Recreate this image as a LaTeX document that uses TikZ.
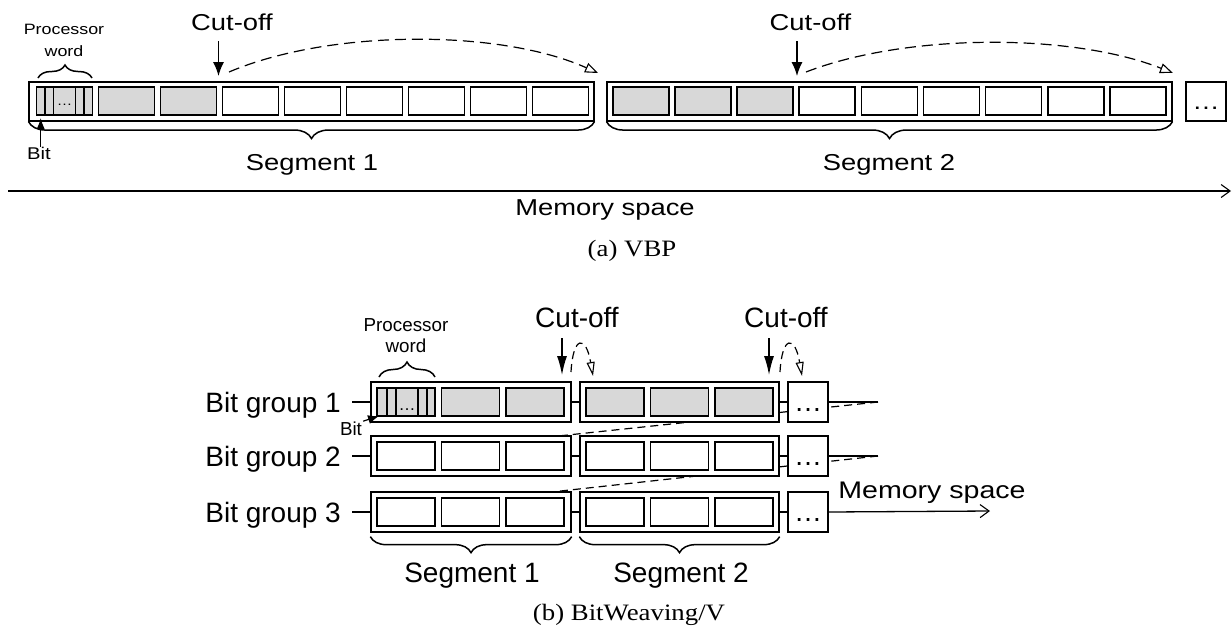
\documentclass[tikz,border=0pt]{standalone}
\usepackage{fontspec}
\setmainfont{Liberation Sans}
\newfontfamily\afont{Liberation Sans}[FakeStretch=1.19]
\newfontfamily\capfont{Liberation Serif}[FakeStretch=1.14]
\usetikzlibrary{arrows.meta,decorations.pathreplacing}
\definecolor{cellgray}{RGB}{216,216,216}
\pgfdeclarelayer{bg}
\pgfsetlayers{bg,main}
\tikzset{
  alab/.style={font=\afont\fontsize{23}{27}\selectfont, inner sep=0pt},
  asmall/.style={font=\afont\fontsize{15}{22}\selectfont, inner sep=0pt, align=center},
  blab/.style={font=\fontsize{28}{32}\selectfont, inner sep=0pt},
  bsmall/.style={font=\fontsize{18.8}{21}\selectfont, inner sep=0pt, align=center},
  captext/.style={font=\capfont\fontsize{23.5}{27}\selectfont, inner sep=0pt},
  outerbox/.style={draw, line width=1.1pt, fill=white, inner sep=0pt},
  cellbox/.style={draw, line width=1.7pt, inner sep=0pt},
  dotbox/.style={draw, line width=1.1pt, fill=white, inner sep=0pt, text depth=0pt},
  acut/.style={line width=1.3pt, -{Latex[length=14pt,width=11pt]}},
  bcut/.style={line width=1.3pt, -{Latex[length=19pt,width=10pt]}},
  ajump/.style={line width=1.2pt, dash pattern=on 11pt off 6pt, -{Triangle[open,length=13pt,width=10pt,line width=1.1pt]}},
  bjump/.style={line width=1.2pt, dash pattern=on 8pt off 5pt, -{Triangle[open,length=14pt,width=8pt,line width=1.1pt]}},
  abit/.style={line width=1.2pt, -{Latex[length=11pt,width=8pt]}},
  bbit/.style={line width=1.2pt, -{Latex[length=11pt,width=9pt]}},
  abrace/.style={decorate, decoration={brace, mirror, amplitude=17pt}, line width=1.5pt},
  bbrace/.style={decorate, decoration={brace, mirror, amplitude=16pt}, line width=1.5pt},
  pbrace/.style={decorate, decoration={brace, amplitude=#1}, line width=1.5pt},
  axisline/.style={line width=1.3pt, -{Straight Barb[length=9pt,width=13pt,line width=1.1pt]}},
  conn/.style={line width=1.2pt},
  weave/.style={line width=1.2pt, dash pattern=on 8pt off 5pt},
}
\begin{document}
\begin{tikzpicture}[x=1pt,y=-1pt]
\useasboundingbox (0,0) rectangle (1232,630);

% ---------------- (a) VBP ----------------
\node[outerbox, minimum width=565pt, minimum height=39pt] (sa1) at (311.5,101.5) {};
\foreach \i/\f in {0/cellgray,1/cellgray,2/cellgray,3/white,4/white,5/white,6/white,7/white,8/white}
  \node[cellbox, fill=\f, minimum width=56pt, minimum height=28pt] (sa1c\i) at ({64.5+62*\i},101) {};
\foreach \bx in {45,53.5,75.5,84}
  \draw[line width=1.4pt] (\bx,87) -- (\bx,115);
\node[font=\afont\fontsize{13}{15}\selectfont, anchor=base, inner sep=0pt] (sa1dots) at (64.5,105) {…};

\node[outerbox, minimum width=565pt, minimum height=39pt] (sa2) at (889.5,101.5) {};
\foreach \i/\f in {0/cellgray,1/cellgray,2/cellgray,3/white,4/white,5/white,6/white,7/white,8/white}
  \node[cellbox, fill=\f, minimum width=56pt, minimum height=28pt] (sa2c\i) at ({641+62.1*\i},101) {};

\node[dotbox, alab, minimum width=40pt, minimum height=39pt, text height=16pt] (da) at (1206,101.5) {…};

% cut-offs
\node[alab, anchor=base] (cuta1) at (232,30.5) {Cut-off};
\coordinate (cuta1s) at (218.5,41);
\coordinate (cuta1e) at (218.5,76);
\draw[acut] (cuta1s) -- (cuta1e);
\coordinate (ja1s) at (229,72);
\coordinate (ja1e) at (598,73);
\draw[ajump] (ja1s) .. controls (330,29) and (500,29) .. (ja1e);

\node[alab, anchor=base] (cuta2) at (810.5,30.5) {Cut-off};
\coordinate (cuta2s) at (797,41);
\coordinate (cuta2e) at (797,76);
\draw[acut] (cuta2s) -- (cuta2e);
\coordinate (ja2s) at (806,72);
\coordinate (ja2e) at (1173,73);
\draw[ajump] (ja2s) .. controls (907,33) and (1072,33) .. (ja2e);

% processor word
\node[asmall] (pwa) at (64,40.5) {Processor\\word};
\coordinate (pwal) at (38,78);
\coordinate (pwar) at (92,78);
\draw[pbrace=13pt] (pwal) -- (pwar);

% bit
\node[font=\afont\fontsize{17}{20}\selectfont, anchor=base, inner sep=0pt] (bita) at (39,159.3) {Bit};
\coordinate (bitat) at (40.7,118);
\draw[abit] (bita.north -| bitat) -- (bitat);

% segments
\draw[abrace] (sa1.south west) -- (sa1.south east);
\draw[abrace] (sa2.south west) -- (sa2.south east);
\node[alab, anchor=base] (lsa1) at (312,170.5) {Segment 1};
\node[alab, anchor=base] (lsa2) at (889,170.5) {Segment 2};

% memory axis
\coordinate (axs) at (8,191);
\coordinate (axe) at (1231,191);
\draw[axisline] (axs) -- (axe);
\node[alab, anchor=base] (msa) at (605,215) {Memory space};
\node[captext, anchor=base] (capa) at (632,256.7) {(a) VBP};

% ---------------- (b) BitWeaving/V ----------------
\foreach \r/\yc/\f in {1/402/cellgray,2/456/white,3/512/white} {
  \node[outerbox, line width=1.3pt, minimum width=200pt, minimum height=40pt] (r\r a) at (471,\yc) {};
  \node[outerbox, line width=1.3pt, minimum width=199pt, minimum height=40pt] (r\r b) at (679.5,\yc) {};
  \node[dotbox, blab, line width=1.3pt, minimum width=40pt, minimum height=40pt, text height=19pt] (r\r d) at (808,\yc) {…};
  \foreach \i in {0,1,2} {
    \node[cellbox, line width=1.9pt, fill=\f, minimum width=58pt, minimum height=28pt] (r\r a\i) at ({406+64.5*\i},\yc) {};
    \node[cellbox, line width=1.9pt, fill=\f, minimum width=58pt, minimum height=28pt] (r\r b\i) at ({615+64.5*\i},\yc) {};
  }
  \draw[conn] (r\r a.east) -- (r\r b.west);
  \draw[conn] (r\r b.east) -- (r\r d.west);
  \node[blab, anchor=base east] (bg\r) at (341,\yc+10) {Bit group \r};
  \coordinate (bgl\r) at (352,\yc);
  \draw[conn] (bgl\r) -- (r\r a.west);
}
\coordinate (re1) at (878,402);
\coordinate (re2) at (878,456);
\coordinate (re3) at (990,511);
\draw[conn] (r1d.east) -- (re1);
\draw[conn] (r2d.east) -- (re2);
\draw[axisline] (r3d.east) -- (re3);
\node[font=\afont\fontsize{24}{28}\selectfont, inner sep=0pt, anchor=base] (msb) at (932,498) {Memory space};

\begin{pgfonlayer}{bg}
  \draw[weave] (re1) -- (r2a.west);
  \draw[weave] (re2) -- (r3a.west);
\end{pgfonlayer}

% bits in first word
\foreach \bx in {386.7,396,418,427}
  \draw[line width=1.6pt] (\bx,388) -- (\bx,416);
\node[font=\fontsize{17}{20}\selectfont, anchor=base, inner sep=0pt] (r1dots) at (407,410) {…};

% processor word (b)
\node[bsmall] (pwb) at (406,335.75) {Processor\\word};
\coordinate (pwbl) at (379,377);
\coordinate (pwbr) at (435,377);
\draw[pbrace=15pt] (pwbl) -- (pwbr);

% bit (b)
\node[bsmall, anchor=base] (bitb) at (351,435) {Bit};
\coordinate (bitbt) at (379,416);
\draw[bbit] ([xshift=1pt]bitb.north east) -- (bitbt);

% cut-offs (b)
\node[blab, anchor=base] (cutb1) at (577,327) {Cut-off};
\coordinate (cutb1s) at (562,338);
\coordinate (cutb1e) at (562,375);
\draw[bcut] (cutb1s) -- (cutb1e);
\coordinate (jb1s) at (571,372);
\coordinate (jb1e) at (593,376);
\draw[bjump] (jb1s) .. controls (573,335) and (586,335) .. (jb1e);

\node[blab, anchor=base] (cutb2) at (786,327) {Cut-off};
\coordinate (cutb2s) at (769,338);
\coordinate (cutb2e) at (769,375);
\draw[bcut] (cutb2s) -- (cutb2e);
\coordinate (jb2s) at (780,372);
\coordinate (jb2e) at (802,376);
\draw[bjump] (jb2s) .. controls (782,335) and (795,335) .. (jb2e);

% segments (b)
\draw[bbrace] ([yshift=-4pt]r3a.south west) -- ([yshift=-4pt]r3a.south east);
\draw[bbrace] ([yshift=-4pt]r3b.south west) -- ([yshift=-4pt]r3b.south east);
\node[blab, anchor=base] (lsb1) at (472,582.7) {Segment 1};
\node[blab, anchor=base] (lsb2) at (681,582.7) {Segment 2};

\node[captext, anchor=base] (capb) at (629,620) {(b) BitWeaving/V};
\end{tikzpicture}
\end{document}
